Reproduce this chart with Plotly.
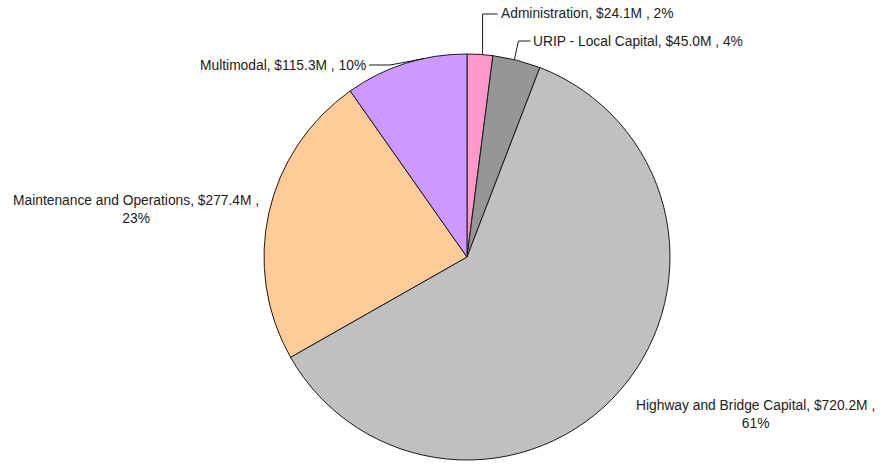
import math
import plotly.graph_objects as go

# Program budget by category ($ millions)
categories = [
    "Administration",
    "URIP - Local Capital",
    "Highway and Bridge Capital",
    "Maintenance and Operations",
    "Multimodal",
]
amounts = [24.1, 45.0, 720.2, 277.4, 115.3]
colors = ["#FF99CC", "#969696", "#C0C0C0", "#FFCC99", "#CC99FF"]

W, H = 882, 464
CX, CY, R = 467, 257, 203  # pie centre and radius in pixels

total = sum(amounts)
pcts = [a / total * 100 for a in amounts]


def label_text(name, amt, pct, split=False):
    sep = "<br>" if split else " "
    return f"{name}, ${amt:.1f}M ,{sep}{pct:.0f}%"


def px_to_paper(x, y):
    return x / W, 1 - y / H


def edge_point(idx, frac=0.5):
    """Point on the rim inside a slice (clockwise from 12 o'clock)."""
    start = sum(pcts[:idx]) / 100 * 360
    ang = math.radians(start + pcts[idx] / 100 * 360 * frac)
    return CX + R * math.sin(ang), CY - R * math.cos(ang)


fig = go.Figure(
    go.Pie(
        labels=categories,
        values=amounts,
        marker=dict(colors=colors, line=dict(color="#1a1a1a", width=1)),
        sort=False,
        direction="clockwise",
        rotation=0,
        textinfo="none",
        hoverinfo="label+value+percent",
        showlegend=False,
        domain=dict(
            x=[(CX - R) / W, (CX + R) / W],
            y=[1 - (CY + R) / H, 1 - (CY - R) / H],
        ),
    )
)

font = dict(family="Liberation Sans, Arial, sans-serif", size=13.8, color="#222222")
annotations = []
shapes = []


def add_label(text, x, y, xanchor, align="left"):
    px, py = px_to_paper(x, y)
    annotations.append(dict(
        text=text, x=px, y=py, xref="paper", yref="paper",
        xanchor=xanchor, yanchor="middle", showarrow=False,
        font=font, align=align,
    ))


def add_leader(points):
    path = ""
    for i, (x, y) in enumerate(points):
        px, py = px_to_paper(x, y)
        path += ("M" if i == 0 else "L") + f" {px} {py} "
    shapes.append(dict(type="path", path=path, xref="paper", yref="paper",
                       line=dict(color="#1a1a1a", width=1)))


# Administration: vertical leader then short horizontal
ex, ey = edge_point(0, 0.6)
add_leader([(ex, ey), (ex, 14), (ex + 15, 14)])
add_label(label_text(categories[0], amounts[0], pcts[0]), ex + 16, 14, "left")

# URIP: leader up and to the right
ex, ey = edge_point(1, 0.45)
add_leader([(ex, ey), (ex + 4, 41), (ex + 16, 41)])
add_label(label_text(categories[1], amounts[1], pcts[1]), ex + 17, 41, "left")

# Multimodal: horizontal leader to the left
ex, ey = edge_point(4, 0.65)
add_leader([(ex, ey), (390, 65), (369, 65)])
add_label(label_text(categories[4], amounts[4], pcts[4]), 368, 65, "right")

# Larger slices: labels placed outside without leaders
add_label(label_text(categories[3], amounts[3], pcts[3], split=True), 136, 209, "center", "center")
add_label(label_text(categories[2], amounts[2], pcts[2], split=True), 755, 414, "center", "center")

fig.update_layout(
    width=W, height=H,
    margin=dict(l=0, r=0, t=0, b=0),
    paper_bgcolor="white",
    plot_bgcolor="white",
    annotations=annotations,
    shapes=shapes,
)

fig.write_html("out.html")
